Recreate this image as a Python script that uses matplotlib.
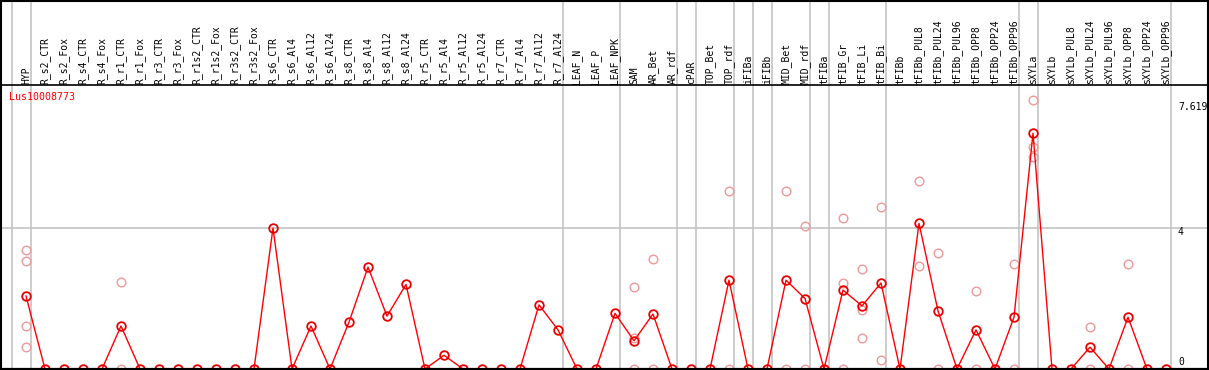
import matplotlib
matplotlib.use("Agg")
import matplotlib.pyplot as plt
import matplotlib.transforms as mtransforms
from matplotlib.patches import Rectangle

categories = ["HYP", "R_s2_CTR", "R_s2_Fox", "R_s4_CTR", "R_s4_Fox", "R_r1_CTR", "R_r1_Fox",
              "R_r3_CTR", "R_r3_Fox", "R_r1s2_CTR", "R_r1s2_Fox", "R_r3s2_CTR", "R_r3s2_Fox",
              "R_s6_CTR", "R_s6_Al4", "R_s6_Al12", "R_s6_Al24", "R_s8_CTR", "R_s8_Al4",
              "R_s8_Al12", "R_s8_Al24", "R_r5_CTR", "R_r5_Al4", "R_r5_Al12", "R_r5_Al24",
              "R_r7_CTR", "R_r7_Al4", "R_r7_Al12", "R_r7_Al24", "LEAF_N", "LEAF_P", "LEAF_NPK",
              "SAM", "AR_Bet", "AR_rdf", "cPAR", "TOP_Bet", "TOP_rdf", "iFIBa", "iFIBb",
              "MID_Bet", "MID_rdf", "tFIBa", "tFIB_Gr", "tFIB_Li", "tFIB_Bi", "tFIBb",
              "tFIBb_PUL8", "tFIBb_PUL24", "tFIBb_PUL96", "tFIBb_OPP8", "tFIBb_OPP24",
              "tFIBb_OPP96", "sXYLa", "sXYLb", "sXYLb_PUL8", "sXYLb_PUL24", "sXYLb_PUL96",
              "sXYLb_OPP8", "sXYLb_OPP24", "sXYLb_OPP96"]

mean_values = [2.07, 0, 0, 0, 0, 1.22, 0, 0, 0, 0, 0, 0, 0,
               4.0, 0, 1.22, 0, 1.33, 2.89, 1.50, 2.40, 0, 0.39, 0, 0,
               0, 0, 1.82, 1.11, 0, 0, 1.58,
               0.80, 1.56, 0, 0, 0, 2.52, 0, 0,
               2.52, 2.00, 0, 2.24, 1.79, 2.44, 0,
               4.13, 1.65, 0, 1.11, 0, 1.47,
               6.69, 0, 0, 0.62, 0, 1.47, 0, 0]

replicates = {
    "HYP": [3.37, 3.05, 1.22, 0.62],
    "R_r1_CTR": [2.46, 0],
    "SAM": [2.32, 0.87, 0],
    "AR_Bet": [3.11, 0],
    "TOP_rdf": [5.05, 0],
    "MID_Bet": [5.05, 0],
    "MID_rdf": [4.05, 0],
    "tFIB_Gr": [4.27, 2.44, 0],
    "tFIB_Li": [2.83, 1.66, 0.87],
    "tFIB_Bi": [4.59, 0.26],
    "tFIBb_PUL8": [5.32, 2.91],
    "tFIBb_PUL24": [3.28, 0],
    "tFIBb_OPP8": [2.20, 0],
    "tFIBb_OPP96": [2.97, 0],
    "sXYLa": [7.619, 6.29, 6.02],
    "sXYLb_PUL24": [1.18, 0],
    "sXYLb_OPP8": [2.97, 0],
}

group_ends = ["HYP", "R_r7_Al24", "LEAF_NPK", "AR_rdf", "cPAR", "TOP_rdf", "iFIBa", "iFIBb",
              "MID_rdf", "tFIBa", "tFIB_Bi", "tFIBb_OPP96", "sXYLa", "sXYLb_OPP96"]

y_labels = ["7.619", "4", "0"]
y_label_values = [7.619, 4, 0]
title = "Lus10008773"

W, H = 1209, 370
fig = plt.figure(figsize=(W / 100, H / 100), dpi=100)

# plot axes: x pixel = 26 + 19*i, zero at pixel 369, top at pixel 85
x0, dx = 26.0, 19.0
ax = fig.add_axes([0, (H - 369) / H, 1, (369 - 85) / H])
ax.set_xlim(-x0 / dx, (W - x0) / dx)
ppu = 35.25
ax.set_ylim(0, (369 - 85) / ppu)
ax.axis("off")

xs = list(range(len(categories)))
idx = {c: i for i, c in enumerate(categories)}

blend = mtransforms.blended_transform_factory(ax.transData, fig.transFigure)
blend_y = mtransforms.blended_transform_factory(fig.transFigure, ax.transData)

grey = "#c4c4c4"
# vertical group separators (full figure height)
for g in ["__start__"] + group_ends:
    i = -1 if g == "__start__" else idx[g]
    xv = i + 4.6 / dx
    ax.plot([xv, xv], [0, 1], transform=blend, color=grey, lw=1.2, clip_on=False, zorder=1)

# horizontal gridline at 4
ax.plot([0, 1], [4, 4], transform=blend_y, color=grey, lw=1.2, clip_on=False, zorder=1)

# replicates
pink = "#f09898"
for c, vals in replicates.items():
    ax.plot([idx[c]] * len(vals), vals, linestyle="none", marker="o", ms=6.2,
            mfc="none", mec=pink, mew=1.0, clip_on=False, zorder=2)

# mean line and markers
ax.plot(xs, mean_values, color="#ff0000", lw=1.0, clip_on=False, zorder=3)
ax.plot(xs, mean_values, linestyle="none", marker="o", ms=6.2, mfc="none",
        mec="#e80000", mew=1.3, clip_on=False, zorder=4)

# baseline
ax.plot([0, 1], [0, 0], transform=blend_y, color="black", lw=1.6, clip_on=False, zorder=5)

# category labels
for i, c in enumerate(categories):
    ax.text(i, (H - 84) / H, c, transform=blend, rotation=90, ha="center", va="bottom",
            fontsize=7, family="DejaVu Sans Mono", color="black")

# title
fig.text(9 / W, (H - 97) / H, title, ha="left", va="center", fontsize=7.2,
         family="DejaVu Sans Mono", color="#ff0000")

# right labels
label_px = [107, 232, 362]
for lab, py in zip(y_labels, label_px):
    fig.text(1178 / W, (H - py) / H, lab, ha="left", va="center", fontsize=7,
             family="DejaVu Sans Mono", color="black")

# frame lines
fig.add_artist(plt.Line2D([0, 1], [(H - 85) / H] * 2, transform=fig.transFigure,
                          color="black", lw=1.2))
fig.add_artist(Rectangle((0.5 / W, 0.5 / H), (W - 1.5) / W, (H - 1.5) / H,
                         transform=fig.transFigure, fill=False, edgecolor="black", lw=1.5))

fig.savefig("out.png", dpi=100)
